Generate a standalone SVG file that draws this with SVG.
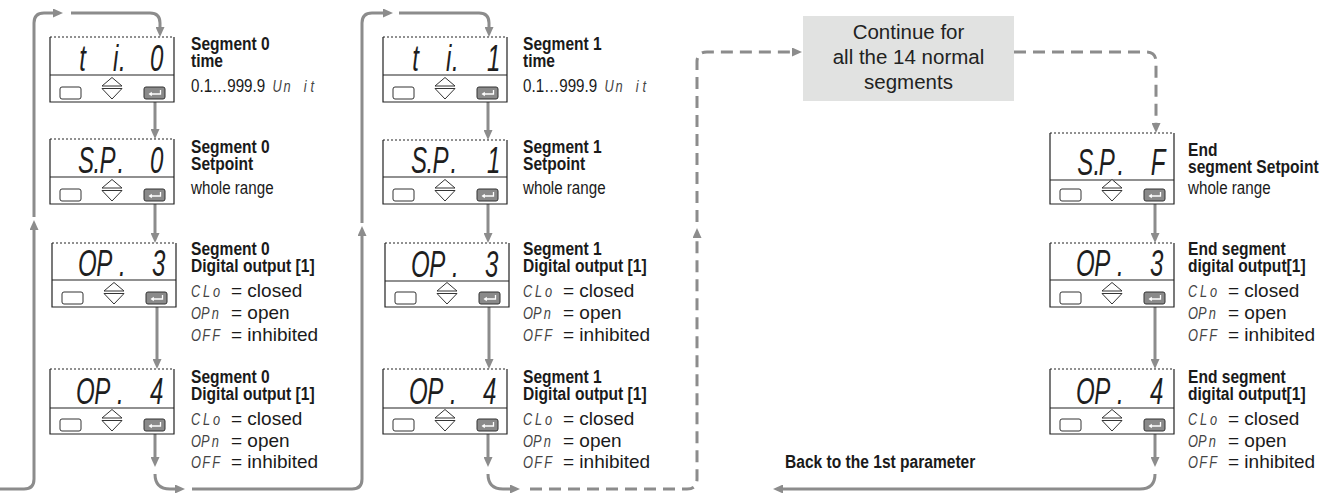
<svg xmlns="http://www.w3.org/2000/svg" xmlns:xlink="http://www.w3.org/1999/xlink" width="1326" height="493" viewBox="0 0 1326 493">
<style>
.hd{font-family:"Liberation Sans",Arial,sans-serif;font-weight:bold;font-size:19px;fill:#1a1a1a}
.tx{font-family:"Liberation Sans",Arial,sans-serif;font-size:18.5px;fill:#1a1a1a}
.li{font-family:"Liberation Sans",Arial,sans-serif;font-size:19px;fill:#1a1a1a}
.ct{font-family:"Liberation Sans",Arial,sans-serif;font-size:20.5px;fill:#222;text-anchor:middle}
.seg{font-family:"Liberation Sans",Arial,sans-serif;font-style:italic;font-size:37px;fill:#1e1e1e}
.sm{font-family:"Liberation Sans",Arial,sans-serif;font-style:italic;font-size:16px;fill:#444}
.fr{fill:#fff;stroke:#222;stroke-width:1.2}
.dt{stroke:#222;stroke-width:1;stroke-dasharray:2 2}
.ln{stroke:#222;stroke-width:1.2}
.b1{fill:#fff;stroke:#333;stroke-width:1}
.b2{fill:#8a8a8a;stroke:#333;stroke-width:1}
.con{fill:none;stroke:#8c8c8c;stroke-width:3}
.dcon{fill:none;stroke:#8c8c8c;stroke-width:3;stroke-dasharray:12 7}
.box{fill:#e1e2e1}
</style>
<defs>
<marker id="ah" viewBox="0 0 10 9" refX="4" refY="4.5" markerWidth="10" markerHeight="9" markerUnits="userSpaceOnUse" orient="auto"><path d="M0,0 L10,4.5 L0,9 Z" fill="#8c8c8c"/></marker>
<g id="btns">
<rect x="10" y="-15" width="21" height="12" rx="2" class="b1"/>
<path d="M52,-16 L62,-24.5 L72,-16 Z M52,-13.5 L62,-3 L72,-13.5 Z" class="b1"/>
<rect x="94" y="-15" width="21" height="12" rx="2" class="b2"/>
<path d="M110.5,-12 V-8 H101" stroke="#fff" stroke-width="1.3" fill="none"/>
<path d="M98.5,-8 L101.8,-10.3 L101.8,-5.7 Z" fill="#fff"/>
</g>
</defs>
<rect width="1326" height="493" fill="#fff"/>

<g id="connectors">
<path class="con" d="M0,489 H24 Q34,489 34,479 V226" marker-end="url(#ah)"/>
<path class="con" d="M34,217 V23 Q34,13 44,13 H57" marker-end="url(#ah)"/>
<path class="con" d="M71,13 H150 Q160,13 160,23 V31" marker-end="url(#ah)"/>
<path class="con" d="M155,102 V133" marker-end="url(#ah)"/>
<path class="con" d="M155,204 V237" marker-end="url(#ah)"/>
<path class="con" d="M157,307 V363" marker-end="url(#ah)"/>
<path class="con" d="M155,434 V461" marker-end="url(#ah)"/>
<path class="con" d="M155,474 Q155,489 170,489 H179" marker-end="url(#ah)"/>
<path class="con" d="M192,489 H352 Q362,489 362,479 V232" marker-end="url(#ah)"/>
<path class="con" d="M362,223 V23 Q362,13 372,13 H387" marker-end="url(#ah)"/>
<path class="con" d="M399,13 H479 Q489,13 489,23 V31" marker-end="url(#ah)"/>
<path class="con" d="M488,102 V134" marker-end="url(#ah)"/>
<path class="con" d="M488,204 V237" marker-end="url(#ah)"/>
<path class="con" d="M489,307 V363" marker-end="url(#ah)"/>
<path class="con" d="M488,434 V461" marker-end="url(#ah)"/>
<path class="con" d="M488,474 Q488,489 503,489 H514" marker-end="url(#ah)"/>
<path class="dcon" d="M530,489 H687 Q697,489 697,479 V234" marker-end="url(#ah)"/>
<path class="dcon" d="M697,222 V62 Q697,52 707,52 H796" marker-end="url(#ah)"/>
<path class="dcon" d="M1014,52 H1146 Q1156,52 1156,62 V127" marker-end="url(#ah)"/>
<path class="con" d="M1155,204 V237" marker-end="url(#ah)"/>
<path class="con" d="M1155,307 V363" marker-end="url(#ah)"/>
<path class="con" d="M1155,434 V461" marker-end="url(#ah)"/>
<path class="con" d="M1155,474 Q1155,489 1140,489 H779" marker-end="url(#ah)"/>
<text class="hd" transform="translate(785,468) scale(0.82,1)">Back to the 1st parameter</text>
</g>

<g id="n-ti0">
<g transform="translate(50,37)">
<path class="fr" d="M0,0 V65 H124 V0"/><line class="dt" x1="0" y1="0" x2="124" y2="0"/><line class="ln" x1="0" y1="38" x2="124" y2="38"/>
<use xlink:href="#btns" href="#btns" y="65"/>
<text class="seg" transform="translate(0,34) scale(0.65,1)" x="45 97 106 123 154">ti. 0</text>
</g>
<g transform="translate(191,0) scale(0.82,1)">
<text class="hd" y="50">Segment 0</text>
<text class="hd" y="67">time</text>
<text class="tx" y="92">0.1…999.9</text>
</g>
<text class="sm" transform="translate(191,92) scale(0.8,1)" x="102 115.5 141 149.5">Unit</text>
</g>

<g id="n-sp0">
<g transform="translate(50,139)">
<path class="fr" d="M0,0 V65 H124 V0"/><line class="dt" x1="0" y1="0" x2="124" y2="0"/><line class="ln" x1="0" y1="38" x2="124" y2="38"/>
<use xlink:href="#btns" href="#btns" y="65"/>
<text class="seg" transform="translate(0,34) scale(0.65,1)" x="43 67 76 104 123 154">S.P. 0</text>
</g>
<g transform="translate(191,0) scale(0.82,1)">
<text class="hd" y="153">Segment 0</text>
<text class="hd" y="170">Setpoint</text>
<text class="tx" y="194">whole range</text>
</g>
</g>

<g id="n-op3-0">
<g transform="translate(52,243)">
<path class="fr" d="M0,0 V64 H124 V0"/><line class="dt" x1="0" y1="0" x2="124" y2="0"/><line class="ln" x1="0" y1="37" x2="124" y2="37"/>
<use xlink:href="#btns" href="#btns" y="64"/>
<text class="seg" transform="translate(0,33) scale(0.65,1)" x="40 68 103 123 154">OP. 3</text>
</g>
<g transform="translate(191,0) scale(0.82,1)">
<text class="hd" y="255">Segment 0</text>
<text class="hd" y="272">Digital output [1]</text>
</g>
<text class="sm" transform="translate(191,297) scale(0.8,1)" x="0 15 27.5">CLo</text><text class="li" x="231" y="297">= closed</text>
<text class="sm" transform="translate(191,319) scale(0.8,1)" x="0 12.5 26">OPn</text><text class="li" x="231" y="319">= open</text>
<text class="sm" transform="translate(191,341) scale(0.8,1)" x="0 14 26.5">OFF</text><text class="li" x="231" y="341">= inhibited</text>
</g>

<g id="n-op4-0">
<g transform="translate(50,369)">
<path class="fr" d="M0,0 V65 H124 V0"/><line class="dt" x1="0" y1="0" x2="124" y2="0"/><line class="ln" x1="0" y1="39" x2="124" y2="39"/>
<use xlink:href="#btns" href="#btns" y="65"/>
<text class="seg" transform="translate(0,35) scale(0.65,1)" x="40 68 103 123 154">OP. 4</text>
</g>
<g transform="translate(191,0) scale(0.82,1)">
<text class="hd" y="383">Segment 0</text>
<text class="hd" y="400">Digital output [1]</text>
</g>
<text class="sm" transform="translate(191,425) scale(0.8,1)" x="0 15 27.5">CLo</text><text class="li" x="231" y="425">= closed</text>
<text class="sm" transform="translate(191,447) scale(0.8,1)" x="0 12.5 26">OPn</text><text class="li" x="231" y="447">= open</text>
<text class="sm" transform="translate(191,468) scale(0.8,1)" x="0 14 26.5">OFF</text><text class="li" x="231" y="468">= inhibited</text>
</g>

<g id="n-ti1">
<g transform="translate(383,37)">
<path class="fr" d="M0,0 V65 H124 V0"/><line class="dt" x1="0" y1="0" x2="124" y2="0"/><line class="ln" x1="0" y1="38" x2="124" y2="38"/>
<use xlink:href="#btns" href="#btns" y="65"/>
<text class="seg" transform="translate(0,34) scale(0.65,1)" x="45 97 106 123 160">ti. 1</text>
</g>
<g transform="translate(523,0) scale(0.82,1)">
<text class="hd" y="50">Segment 1</text>
<text class="hd" y="67">time</text>
<text class="tx" y="92">0.1…999.9</text>
</g>
<text class="sm" transform="translate(523,92) scale(0.8,1)" x="102 115.5 141 149.5">Unit</text>
</g>

<g id="n-sp1">
<g transform="translate(383,140)">
<path class="fr" d="M0,0 V64 H124 V0"/><line class="dt" x1="0" y1="0" x2="124" y2="0"/><line class="ln" x1="0" y1="37" x2="124" y2="37"/>
<use xlink:href="#btns" href="#btns" y="64"/>
<text class="seg" transform="translate(0,33) scale(0.65,1)" x="43 67 76 104 123 160">S.P. 1</text>
</g>
<g transform="translate(523,0) scale(0.82,1)">
<text class="hd" y="153">Segment 1</text>
<text class="hd" y="170">Setpoint</text>
<text class="tx" y="194">whole range</text>
</g>
</g>

<g id="n-op3-1">
<g transform="translate(385,243)">
<path class="fr" d="M0,0 V64 H124 V0"/><line class="dt" x1="0" y1="0" x2="124" y2="0"/><line class="ln" x1="0" y1="38" x2="124" y2="38"/>
<use xlink:href="#btns" href="#btns" y="64"/>
<text class="seg" transform="translate(0,34) scale(0.65,1)" x="40 68 103 123 154">OP. 3</text>
</g>
<g transform="translate(523,0) scale(0.82,1)">
<text class="hd" y="255">Segment 1</text>
<text class="hd" y="272">Digital output [1]</text>
</g>
<text class="sm" transform="translate(523,297) scale(0.8,1)" x="0 15 27.5">CLo</text><text class="li" x="563" y="297">= closed</text>
<text class="sm" transform="translate(523,319) scale(0.8,1)" x="0 12.5 26">OPn</text><text class="li" x="563" y="319">= open</text>
<text class="sm" transform="translate(523,341) scale(0.8,1)" x="0 14 26.5">OFF</text><text class="li" x="563" y="341">= inhibited</text>
</g>

<g id="n-op4-1">
<g transform="translate(383,369)">
<path class="fr" d="M0,0 V65 H124 V0"/><line class="dt" x1="0" y1="0" x2="124" y2="0"/><line class="ln" x1="0" y1="39" x2="124" y2="39"/>
<use xlink:href="#btns" href="#btns" y="65"/>
<text class="seg" transform="translate(0,35) scale(0.65,1)" x="40 68 103 123 154">OP. 4</text>
</g>
<g transform="translate(523,0) scale(0.82,1)">
<text class="hd" y="383">Segment 1</text>
<text class="hd" y="400">Digital output [1]</text>
</g>
<text class="sm" transform="translate(523,425) scale(0.8,1)" x="0 15 27.5">CLo</text><text class="li" x="563" y="425">= closed</text>
<text class="sm" transform="translate(523,447) scale(0.8,1)" x="0 12.5 26">OPn</text><text class="li" x="563" y="447">= open</text>
<text class="sm" transform="translate(523,468) scale(0.8,1)" x="0 14 26.5">OFF</text><text class="li" x="563" y="468">= inhibited</text>
</g>

<g id="n-continue">
<rect class="box" x="803" y="16" width="211" height="85"/>
<text class="ct" x="908.5" y="39">Continue for</text>
<text class="ct" x="908.5" y="64">all the 14 normal</text>
<text class="ct" x="908.5" y="89">segments</text>
</g>

<g id="n-spF">
<g transform="translate(1050,133)">
<path class="fr" d="M0,0 V71 H124 V0"/><line class="dt" x1="0" y1="0" x2="124" y2="0"/><line class="ln" x1="0" y1="47" x2="124" y2="47"/>
<use xlink:href="#btns" href="#btns" y="71"/>
<text class="seg" transform="translate(0,42) scale(0.65,1)" x="42 67 75 104 123 155">S.P. F</text>
</g>
<g transform="translate(1188,0) scale(0.82,1)">
<text class="hd" y="156">End</text>
<text class="hd" y="173">segment Setpoint</text>
<text class="tx" y="194">whole range</text>
</g>
</g>

<g id="n-op3-end">
<g transform="translate(1050,243)">
<path class="fr" d="M0,0 V64 H124 V0"/><line class="dt" x1="0" y1="0" x2="124" y2="0"/><line class="ln" x1="0" y1="37" x2="124" y2="37"/>
<use xlink:href="#btns" href="#btns" y="64"/>
<text class="seg" transform="translate(0,33) scale(0.65,1)" x="40 68 103 123 154">OP. 3</text>
</g>
<g transform="translate(1188,0) scale(0.82,1)">
<text class="hd" y="255">End segment</text>
<text class="hd" y="272">digital output[1]</text>
</g>
<text class="sm" transform="translate(1188,297) scale(0.8,1)" x="0 15 27.5">CLo</text><text class="li" x="1228" y="297">= closed</text>
<text class="sm" transform="translate(1188,319) scale(0.8,1)" x="0 12.5 26">OPn</text><text class="li" x="1228" y="319">= open</text>
<text class="sm" transform="translate(1188,341) scale(0.8,1)" x="0 14 26.5">OFF</text><text class="li" x="1228" y="341">= inhibited</text>
</g>

<g id="n-op4-end">
<g transform="translate(1050,369)">
<path class="fr" d="M0,0 V65 H124 V0"/><line class="dt" x1="0" y1="0" x2="124" y2="0"/><line class="ln" x1="0" y1="39" x2="124" y2="39"/>
<use xlink:href="#btns" href="#btns" y="65"/>
<text class="seg" transform="translate(0,35) scale(0.65,1)" x="40 68 103 123 154">OP. 4</text>
</g>
<g transform="translate(1188,0) scale(0.82,1)">
<text class="hd" y="383">End segment</text>
<text class="hd" y="400">digital output[1]</text>
</g>
<text class="sm" transform="translate(1188,425) scale(0.8,1)" x="0 15 27.5">CLo</text><text class="li" x="1228" y="425">= closed</text>
<text class="sm" transform="translate(1188,447) scale(0.8,1)" x="0 12.5 26">OPn</text><text class="li" x="1228" y="447">= open</text>
<text class="sm" transform="translate(1188,468) scale(0.8,1)" x="0 14 26.5">OFF</text><text class="li" x="1228" y="468">= inhibited</text>
</g>
</svg>
